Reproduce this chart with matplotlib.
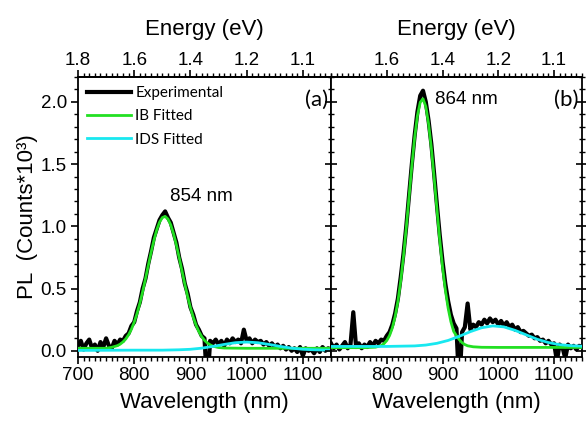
import matplotlib
matplotlib.use('Agg')
import matplotlib.pyplot as plt
import numpy as np
from matplotlib.ticker import MultipleLocator

plt.rcParams['font.family'] = ['Liberation Sans', 'DejaVu Sans']

# ---------------- data ----------------
wavelength = np.arange(700, 1151, 5)

exp_a = [0.04, 0.08, 0.01, 0.06, 0.09, 0.02, 0.05, 0.00, 0.07, 0.03,
         0.10, 0.04, 0.02, 0.08, 0.05, 0.09, 0.08, 0.12, 0.14, 0.20,
         0.23, 0.32, 0.39, 0.50, 0.58, 0.70, 0.80, 0.91, 0.98, 1.05,
         1.09, 1.12, 1.07, 1.03, 0.95, 0.87, 0.75, 0.66, 0.54, 0.46,
         0.35, 0.29, 0.21, 0.17, 0.12, 0.10, -0.30, 0.08, 0.06, 0.09,
         0.05, 0.08, 0.04, 0.09, 0.06, 0.10, 0.07, 0.09, 0.06, 0.17,
         0.08, 0.10, 0.06, 0.09, 0.07, 0.08, 0.05, 0.07, 0.04, 0.06,
         0.03, 0.05, 0.02, 0.04, 0.01, 0.03, 0.00, 0.02, -0.01, 0.03,
         -0.04, 0.02, 0.00, 0.01, -0.02, 0.02, -0.01, 0.03, 0.00, 0.02,
         0.01]

exp_b = [0.06, 0.02, 0.05, 0.01, 0.04, 0.07, 0.02, 0.05, 0.31, 0.03,
         0.06, 0.02, 0.05, 0.03, 0.07, 0.04, 0.08, 0.06, 0.09, 0.08,
         0.12, 0.15, 0.21, 0.30, 0.42, 0.59, 0.78, 1.00, 1.25, 1.50,
         1.73, 1.92, 2.05, 2.09, 2.00, 1.85, 1.66, 1.42, 1.17, 0.93,
         0.72, 0.54, 0.40, 0.29, 0.22, 0.18, -0.30, 0.15, 0.19, 0.38,
         0.17, 0.21, 0.19, 0.23, 0.21, 0.25, 0.22, 0.26, 0.23, 0.25,
         0.21, 0.24, 0.20, 0.23, 0.19, 0.21, 0.17, 0.19, 0.15, 0.16,
         0.14, 0.12, 0.13, 0.10, 0.11, 0.08, 0.09, 0.06, 0.08, 0.05,
         0.06, -0.08, 0.05, 0.03, -0.06, 0.05, 0.02, 0.04, 0.01, 0.04,
         0.03]

ib_a_wl = [700, 750, 760, 770, 775, 780, 785, 790, 795, 800, 805, 810, 815,
           820, 825, 830, 835, 840, 845, 850, 855, 860, 865, 870, 875, 880,
           885, 890, 895, 900, 905, 910, 915, 920, 925, 930, 935, 940, 950,
           960, 1000, 1150]
ib_a = [0.020, 0.020, 0.028, 0.041, 0.053, 0.071, 0.095, 0.129, 0.173, 0.230,
        0.299, 0.381, 0.475, 0.578, 0.684, 0.790, 0.887, 0.971, 1.033, 1.070,
        1.080, 1.059, 1.011, 0.939, 0.850, 0.748, 0.641, 0.536, 0.437, 0.347,
        0.270, 0.206, 0.154, 0.114, 0.084, 0.063, 0.048, 0.037, 0.026, 0.022,
        0.020, 0.020]

ids_a_wl = [700, 800, 850, 880, 900, 920, 940, 960, 980, 1000, 1020, 1040,
            1060, 1080, 1100, 1120, 1150]
ids_a = [0.003, 0.005, 0.005, 0.008, 0.012, 0.021, 0.035, 0.051, 0.065, 0.070,
         0.065, 0.051, 0.035, 0.021, 0.012, 0.008, 0.005]

ib_b_wl = [700, 760, 780, 790, 795, 800, 805, 810, 815, 820, 825, 830, 835,
           840, 845, 850, 855, 860, 865, 870, 875, 880, 885, 890, 895, 900,
           905, 910, 915, 920, 925, 930, 935, 940, 945, 955, 970, 1000, 1150]
ib_b = [0.025, 0.025, 0.029, 0.042, 0.057, 0.082, 0.122, 0.184, 0.274, 0.397,
        0.559, 0.758, 0.989, 1.238, 1.487, 1.712, 1.889, 1.997, 2.025, 1.963,
        1.825, 1.627, 1.389, 1.137, 0.893, 0.674, 0.490, 0.344, 0.234, 0.156,
        0.120, 0.090, 0.065, 0.050, 0.040, 0.032, 0.028, 0.027, 0.027]

ids_b_wl = [700, 800, 850, 870, 890, 910, 930, 950, 970, 990, 1010, 1030,
            1050, 1070, 1090, 1110, 1130, 1150]
ids_b = [0.035, 0.035, 0.039, 0.046, 0.060, 0.083, 0.116, 0.154, 0.185, 0.200,
         0.192, 0.164, 0.128, 0.092, 0.066, 0.049, 0.041, 0.037]

bottom_ticks_a = [700, 800, 900, 1000, 1100]
bottom_ticks_b = [800, 900, 1000, 1100]
energy_ticks_a = [700, 800, 900, 1000, 1100]
energy_labels_a = ['1.8', '1.6', '1.4', '1.2', '1.1']
energy_ticks_b = [800, 900, 1000, 1100]
energy_labels_b = ['1.6', '1.4', '1.2', '1.1']

# ---------------- figure ----------------
fig = plt.figure(figsize=(5.86, 4.25), dpi=100)
axL = fig.add_axes([0.1331, 0.16, 0.4317, 0.6588])
axR = fig.add_axes([0.5648, 0.16, 0.4283, 0.6588])

GREEN = '#22e022'
CYAN = '#18e8f0'
TICK_FS = 13.5
LABEL_FS = 16

panels = [
    (axL, exp_a, ib_a_wl, ib_a, ids_a_wl, ids_a, bottom_ticks_a, energy_ticks_a, energy_labels_a),
    (axR, exp_b, ib_b_wl, ib_b, ids_b_wl, ids_b, bottom_ticks_b, energy_ticks_b, energy_labels_b),
]

for ax, ex, ibw, ib, idw, ids, bt, et, el in panels:
    ax.plot(wavelength, ex, color='black', lw=3.0, label='Experimental', zorder=2)
    ax.plot(ibw, ib, color=GREEN, lw=2.0, label='IB Fitted', zorder=3)
    ax.plot(idw, ids, color=CYAN, lw=2.0, label='IDS Fitted', zorder=4)
    ax.set_xlim(700, 1150)
    ax.set_ylim(-0.05, 2.2)
    ax.set_xticks(bt)
    ax.xaxis.set_minor_locator(MultipleLocator(10))
    ax.yaxis.set_major_locator(MultipleLocator(0.5))
    ax.yaxis.set_minor_locator(MultipleLocator(0.1))
    ax.tick_params(axis='x', which='major', direction='out', length=5, width=1.2,
                   labelsize=TICK_FS, pad=2)
    ax.tick_params(axis='x', which='minor', direction='out', length=3, width=1)
    ax.set_xlabel('Wavelength (nm)', fontsize=LABEL_FS, labelpad=6)
    for s in ax.spines.values():
        s.set_linewidth(1.3)
    top = ax.secondary_xaxis('top')
    top.set_xticks(et, el)
    top.xaxis.set_minor_locator(MultipleLocator(10))
    top.tick_params(axis='x', which='major', direction='out', length=5, width=1.2,
                    labelsize=TICK_FS, pad=1)
    top.tick_params(axis='x', which='minor', direction='out', length=3, width=1)
    top.spines['top'].set_linewidth(1.3)
    top.set_xlabel('Energy (eV)', fontsize=LABEL_FS, labelpad=12)

axL.yaxis.set_major_formatter(matplotlib.ticker.FormatStrFormatter('%.1f'))
axL.tick_params(axis='y', which='major', direction='out', length=5, width=1.2,
                labelsize=TICK_FS, pad=3)
axL.tick_params(axis='y', which='minor', direction='out', length=3, width=1)
axL.set_ylabel('PL  (Counts*10³)', fontsize=LABEL_FS, labelpad=2)

axR.tick_params(axis='y', which='both', left=True, right=True, direction='inout',
                labelleft=False)
axR.tick_params(axis='y', which='major', length=8, width=1.2)
axR.tick_params(axis='y', which='minor', length=5, width=1)

axL.legend(loc='upper left', frameon=False, prop={'family': 'Lato', 'size': 11},
           handlelength=2.9, handletextpad=0.25, labelspacing=0.6,
           borderaxespad=0.25, borderpad=0.35)

axL.text(0.99, 0.955, '(a)', transform=axL.transAxes, ha='right', va='top',
         fontsize=16, family='Lato')
axR.text(0.985, 0.955, '(b)', transform=axR.transAxes, ha='right', va='top',
         fontsize=16, family='Lato')

axL.text(864, 1.24, '854 nm', ha='left', va='center', fontsize=13.5)
axR.text(886, 2.02, '864 nm', ha='left', va='center', fontsize=13.5)

fig.savefig('out.png', dpi=100)
